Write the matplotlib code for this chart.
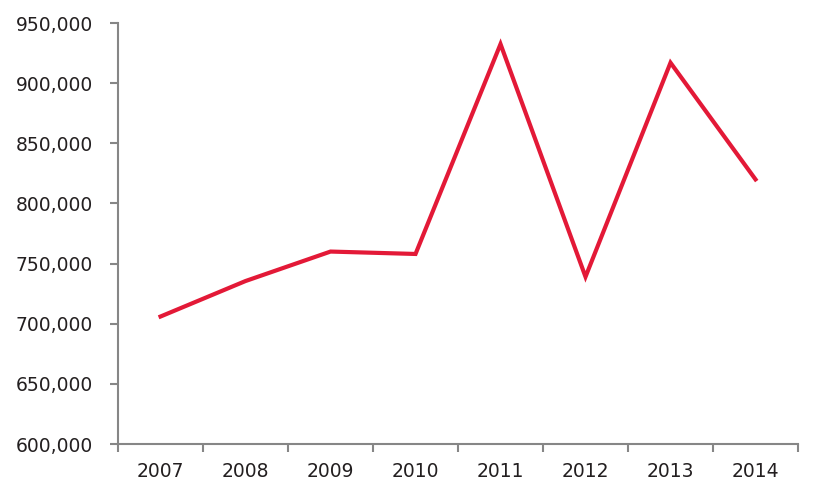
import matplotlib
matplotlib.use("Agg")
import matplotlib.pyplot as plt
import numpy as np
from matplotlib.ticker import FuncFormatter, FixedLocator

matplotlib.rcParams.update({
    'font.family': ['DejaVu Sans'],
    'font.size': 13.5,
})

years = ['2007', '2008', '2009', '2010', '2011', '2012', '2013', '2014']
values = [706000, 735500, 760000, 758000, 932500, 739000, 917000, 820000]

axis_grey = '#868686'
line_red = '#E31937'

fig = plt.figure(figsize=(8.22, 4.95), dpi=100)
ax = fig.add_axes([0.1436, 0.103, 0.8272, 0.8505])

x = np.arange(len(years))
ax.plot(x, values, color=line_red, lw=3, solid_joinstyle='miter')

ax.set_xlim(-0.5, len(years) - 0.5)
ax.set_ylim(600000, 950000)
ax.set_yticks(np.arange(600000, 950001, 50000))
ax.yaxis.set_major_formatter(FuncFormatter(lambda v, p: f'{int(v):,}'))

# category ticks sit between the labels
ax.xaxis.set_major_locator(FixedLocator(np.arange(-0.5, len(years), 1.0)))
ax.xaxis.set_minor_locator(FixedLocator(x))
ax.set_xticklabels([], minor=False)
ax.set_xticklabels(years, minor=True)

for s in ['top', 'right']:
    ax.spines[s].set_visible(False)
for s in ['left', 'bottom']:
    ax.spines[s].set_color(axis_grey)
    ax.spines[s].set_linewidth(1.5)

ax.tick_params(axis='y', length=6, width=1.5, color=axis_grey, pad=12, labelcolor='#231f20')
ax.tick_params(axis='x', which='major', length=6, width=1.5, color=axis_grey)
ax.tick_params(axis='x', which='minor', length=0, pad=13, labelcolor='#231f20')

fig.savefig('out.png', dpi=100)
